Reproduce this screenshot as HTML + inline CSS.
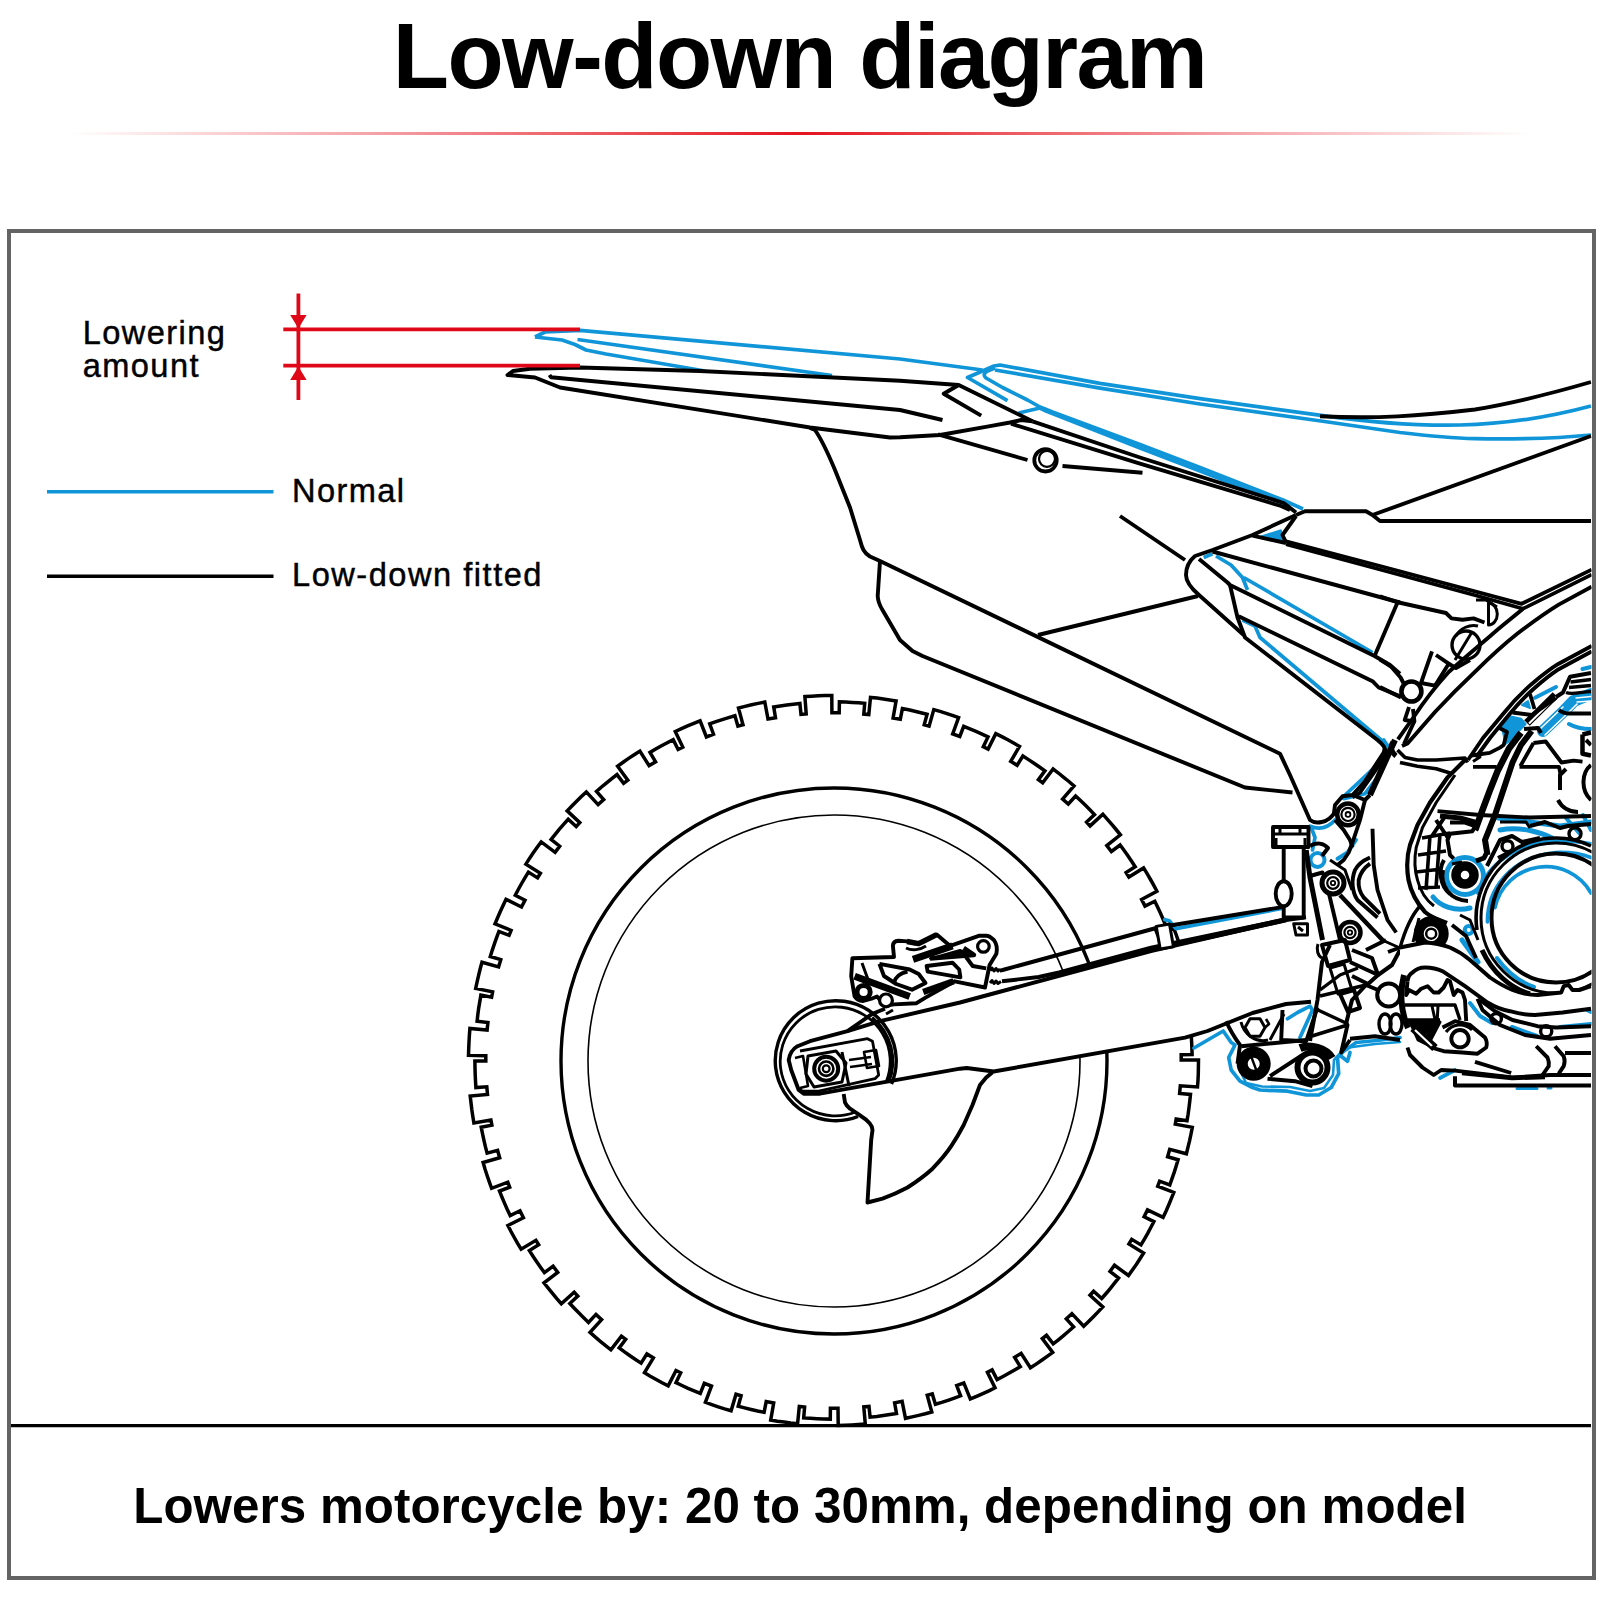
<!DOCTYPE html>
<html lang="en"><head><meta charset="utf-8"><title>Low-down diagram</title>
<style>
html,body{margin:0;padding:0;background:#fff;}
body{width:1600px;height:1600px;position:relative;overflow:hidden;font-family:"Liberation Sans",Arial,Helvetica,sans-serif;color:#000;}
h1{position:absolute;left:392.8px;top:6px;margin:0;white-space:nowrap;font-size:92px;line-height:100px;font-weight:bold;letter-spacing:-1.54px;}
.rule{position:absolute;left:70px;top:132.3px;width:1460px;height:2.4px;background:linear-gradient(90deg,rgba(228,20,32,0) 0%,rgba(228,20,32,.38) 20%,rgba(228,20,32,1) 50%,rgba(228,20,32,.38) 80%,rgba(228,20,32,0) 100%);}
.frame{position:absolute;left:7px;top:229px;width:1580.5px;height:1342.5px;border:4px solid #646464;}
svg{position:absolute;left:0;top:0;}
.t{position:absolute;white-space:nowrap;margin:0;}
.leg{font-size:32.6px;line-height:33.15px;letter-spacing:1.4px;-webkit-text-stroke:0.45px #000;}
.cap{font-size:49.3px;font-weight:bold;left:133.3px;top:1475.6px;line-height:60px;letter-spacing:0.045px;}
</style></head><body>
<h1>Low-down diagram</h1>
<div class="rule"></div>
<div class="frame"></div>
<svg width="1600" height="1600" viewBox="0 0 1600 1600" fill="none" stroke="#000" stroke-width="3.2" stroke-linejoin="miter" stroke-linecap="butt">
<defs><clipPath id="clip"><rect x="11" y="233" width="1580.5" height="1342.5"/></clipPath></defs>
<g clip-path="url(#clip)">
<path d="M804.9 696.6 L811.6 696.2 L818.3 695.8 L825.1 695.6 L831.8 695.5 L831.9 712.8 L839.2 712.8 L839.4 701.9 L845.7 702.1 L852.1 702.4 L858.4 702.8 L864.7 703.3 L863.8 714.1 L868.8 714.6 L870.5 697.4 L877.0 698.1 L883.4 698.9 L889.7 699.9 L896.1 700.9 L893.1 718.0 L900.3 719.3 L902.4 708.6 L908.6 709.8 L914.8 711.2 L920.9 712.7 L927.1 714.3 L924.2 724.8 L929.1 726.2 L933.8 709.6 L940.0 711.4 L946.2 713.3 L952.3 715.4 L958.6 717.6 L952.7 733.9 L959.8 736.5 L963.7 726.4 L969.9 728.9 L976.0 731.4 L982.0 734.1 L988.0 736.9 L983.3 746.7 L988.1 749.1 L995.8 733.6 L1001.8 736.6 L1007.8 739.8 L1013.6 743.1 L1019.5 746.4 L1010.7 761.3 L1017.1 765.3 L1022.9 756.0 L1028.5 759.6 L1034.0 763.2 L1039.5 767.0 L1044.9 770.8 L1038.4 779.6 L1042.7 782.8 L1053.1 768.9 L1058.4 773.0 L1063.7 777.3 L1068.9 781.5 L1074.0 785.9 L1062.6 799.0 L1068.3 804.0 L1075.6 796.0 L1080.5 800.5 L1085.2 805.1 L1089.9 809.8 L1094.5 814.6 L1086.6 822.0 L1090.1 825.9 L1102.9 814.2 L1107.4 819.3 L1111.8 824.4 L1116.1 829.5 L1120.4 834.8 L1106.8 845.5 L1111.4 851.5 L1120.1 845.0 L1124.0 850.3 L1127.9 855.7 L1131.6 861.2 L1135.2 866.7 L1126.1 872.6 L1128.9 877.1 L1143.6 867.9 L1147.1 873.7 L1150.5 879.5 L1153.8 885.4 L1156.9 891.3 L1141.6 899.4 L1145.0 906.1 L1154.8 901.3 L1157.7 907.2 L1160.5 913.3 L1163.1 919.3 L1165.7 925.4 L1155.6 929.5 L1157.5 934.4 L1173.7 928.2 L1176.1 934.5 L1178.3 940.8 L1180.5 947.2 L1182.5 953.6 L1166.0 958.7 L1168.1 966.0 L1178.6 963.0 L1180.3 969.4 L1182.0 975.8 L1183.5 982.3 L1184.8 988.8 L1174.2 990.9 L1175.2 996.1 L1192.2 992.9 L1193.4 999.5 L1194.4 1006.2 L1195.4 1012.9 L1196.2 1019.6 L1179.0 1021.5 L1179.8 1029.1 L1190.6 1028.1 L1191.2 1034.7 L1191.6 1041.3 L1191.9 1047.9 L1192.1 1054.5 L1181.2 1054.7 L1181.2 1060.0 L1198.5 1060.0 L1198.4 1066.8 L1198.3 1073.5 L1198.0 1080.3 L1197.5 1087.0 L1180.3 1085.8 L1179.6 1093.4 L1190.5 1094.4 L1189.8 1101.0 L1189.0 1107.6 L1188.1 1114.2 L1187.0 1120.8 L1176.2 1119.0 L1175.3 1124.2 L1192.3 1127.4 L1191.0 1134.0 L1189.6 1140.6 L1188.0 1147.2 L1186.4 1153.8 L1169.7 1149.4 L1167.6 1156.7 L1178.1 1159.7 L1176.2 1166.1 L1174.2 1172.4 L1172.0 1178.7 L1169.8 1185.0 L1159.6 1181.2 L1157.7 1186.2 L1173.8 1192.4 L1171.3 1198.7 L1168.7 1205.0 L1166.0 1211.2 L1163.1 1217.3 L1147.5 1209.9 L1144.1 1216.7 L1153.9 1221.6 L1150.8 1227.5 L1147.7 1233.4 L1144.4 1239.2 L1141.0 1244.9 L1131.7 1239.3 L1128.9 1243.9 L1143.6 1253.0 L1140.0 1258.7 L1136.3 1264.4 L1132.4 1269.9 L1128.5 1275.5 L1114.5 1265.3 L1110.0 1271.4 L1118.6 1278.0 L1114.5 1283.2 L1110.4 1288.4 L1106.1 1293.5 L1101.7 1298.5 L1093.6 1291.3 L1090.0 1295.2 L1102.8 1306.9 L1098.1 1311.9 L1093.4 1316.7 L1088.6 1321.5 L1083.7 1326.2 L1071.9 1313.6 L1066.3 1318.8 L1073.6 1326.9 L1068.6 1331.3 L1063.5 1335.6 L1058.4 1339.8 L1053.2 1343.9 L1046.5 1335.3 L1042.3 1338.6 L1052.7 1352.4 L1047.2 1356.4 L1041.7 1360.3 L1036.1 1364.1 L1030.4 1367.8 L1021.1 1353.3 L1014.6 1357.3 L1020.3 1366.6 L1014.6 1370.0 L1008.8 1373.3 L1003.0 1376.5 L997.1 1379.6 L992.1 1369.9 L987.4 1372.3 L995.0 1387.8 L988.9 1390.8 L982.8 1393.6 L976.6 1396.3 L970.3 1398.9 L963.8 1382.9 L956.7 1385.6 L960.6 1395.8 L954.3 1398.1 L948.0 1400.3 L941.7 1402.4 L935.4 1404.3 L932.3 1393.9 L927.2 1395.3 L931.8 1412.0 L925.3 1413.8 L918.7 1415.4 L912.1 1416.9 L905.5 1418.3 L902.1 1401.4 L894.6 1402.8 L896.5 1413.5 L889.9 1414.6 L883.4 1415.6 L876.8 1416.5 L870.1 1417.2 L869.0 1406.4 L863.8 1406.9 L865.3 1424.1 L858.5 1424.6 L851.7 1425.0 L845.0 1425.3 L838.2 1425.5 L838.0 1408.2 L830.4 1408.2 L830.3 1419.1 L823.6 1419.0 L816.9 1418.7 L810.3 1418.3 L803.7 1417.9 L804.6 1407.0 L799.3 1406.5 L797.6 1423.7 L790.8 1423.0 L784.1 1422.1 L777.4 1421.2 L770.7 1420.1 L773.7 1403.0 L766.2 1401.6 L764.1 1412.3 L757.6 1411.0 L751.1 1409.5 L744.6 1407.9 L738.2 1406.2 L741.1 1395.7 L736.0 1394.2 L731.1 1410.8 L724.6 1408.9 L718.2 1406.8 L711.8 1404.6 L705.4 1402.3 L711.5 1386.1 L704.3 1383.3 L700.3 1393.4 L694.1 1390.9 L688.0 1388.3 L682.0 1385.5 L676.0 1382.6 L680.7 1372.8 L676.0 1370.5 L668.2 1385.9 L662.1 1382.8 L656.2 1379.5 L650.3 1376.2 L644.5 1372.7 L653.4 1357.9 L646.9 1353.9 L641.1 1363.1 L635.5 1359.5 L630.0 1355.8 L624.5 1351.9 L619.2 1348.0 L625.7 1339.3 L621.4 1336.1 L610.9 1349.8 L605.6 1345.6 L600.3 1341.3 L595.1 1336.9 L590.0 1332.4 L601.6 1319.6 L596.0 1314.4 L588.5 1322.4 L583.7 1317.8 L579.0 1313.1 L574.3 1308.3 L569.8 1303.5 L577.8 1296.1 L574.2 1292.1 L561.3 1303.7 L556.8 1298.6 L552.5 1293.4 L548.2 1288.1 L544.0 1282.8 L557.7 1272.3 L553.1 1266.2 L544.4 1272.6 L540.5 1267.2 L536.7 1261.7 L533.0 1256.2 L529.4 1250.6 L538.7 1244.8 L535.9 1240.3 L521.1 1249.2 L517.6 1243.4 L514.3 1237.5 L511.0 1231.5 L507.9 1225.5 L523.4 1217.7 L520.0 1210.8 L510.2 1215.6 L507.3 1209.5 L504.6 1203.4 L502.0 1197.3 L499.5 1191.1 L509.7 1187.2 L507.8 1182.2 L491.6 1188.3 L489.3 1181.9 L487.1 1175.5 L485.0 1169.0 L483.1 1162.5 L499.7 1157.7 L497.6 1150.4 L487.1 1153.2 L485.4 1146.7 L483.9 1140.2 L482.5 1133.7 L481.2 1127.2 L491.9 1125.2 L490.9 1120.0 L473.9 1122.9 L472.8 1116.2 L471.8 1109.5 L471.0 1102.8 L470.2 1096.1 L487.5 1094.4 L486.8 1086.8 L475.9 1087.6 L475.5 1080.9 L475.2 1074.3 L475.0 1067.6 L474.9 1061.0 L485.8 1061.0 L485.8 1055.7 L468.5 1055.4 L468.7 1048.7 L469.0 1042.0 L469.4 1035.2 L469.9 1028.5 L487.1 1030.0 L487.9 1022.5 L477.1 1021.3 L477.8 1014.7 L478.7 1008.1 L479.8 1001.6 L480.9 995.1 L491.6 997.1 L492.6 991.9 L475.7 988.5 L477.1 981.9 L478.6 975.3 L480.2 968.8 L482.0 962.2 L498.6 966.9 L500.8 959.6 L490.3 956.5 L492.3 950.1 L494.4 943.9 L496.6 937.6 L498.9 931.4 L509.1 935.3 L511.1 930.4 L495.0 923.9 L497.6 917.7 L500.3 911.5 L503.1 905.4 L506.0 899.3 L521.5 907.0 L525.0 900.2 L515.3 895.2 L518.4 889.3 L521.6 883.5 L524.9 877.8 L528.4 872.1 L537.6 877.9 L540.4 873.4 L525.9 864.1 L529.5 858.4 L533.3 852.8 L537.2 847.3 L541.2 841.9 L555.1 852.3 L559.7 846.2 L551.1 839.5 L555.2 834.3 L559.4 829.2 L563.8 824.2 L568.2 819.3 L576.2 826.6 L579.8 822.7 L567.2 810.9 L571.9 806.0 L576.6 801.2 L581.4 796.5 L586.3 791.9 L598.1 804.6 L603.7 799.6 L596.5 791.4 L601.5 787.0 L606.6 782.8 L611.8 778.7 L617.0 774.6 L623.6 783.3 L627.8 780.2 L617.6 766.2 L623.1 762.3 L628.6 758.4 L634.2 754.7 L639.9 751.1 L649.1 765.7 L655.6 761.8 L650.0 752.4 L655.7 749.1 L661.5 745.8 L667.3 742.7 L673.2 739.7 L678.1 749.5 L682.8 747.1 L675.3 731.5 L681.5 728.7 L687.6 725.9 L693.8 723.3 L700.1 720.8 L706.4 736.9 L713.5 734.2 L709.7 723.9 L716.0 721.7 L722.2 719.6 L728.6 717.6 L734.9 715.7 L737.9 726.2 L743.0 724.8 L738.5 708.1 L745.0 706.4 L751.6 704.8 L758.2 703.4 L764.8 702.0 L768.0 719.0 L775.5 717.7 L773.7 706.9 L780.2 705.9 L786.8 705.0 L793.3 704.2 L799.9 703.5 L801.0 714.3 L806.2 713.9Z" stroke-width="3.5"/>
<circle cx="834" cy="1061" r="273" stroke-width="3.4"/>
<circle cx="834" cy="1061" r="246" stroke-width="1.6"/>
<!-- 10_blue.svg -->
<g stroke="#1096d8" stroke-width="3.7" fill="none" stroke-linejoin="round">
<!-- blue fender -->
<path d="M535 337 L545 332 L580 330.3 L900 359 L982.5 370"/>
<path d="M535 337 L562 340 L575 344.5 L586 350 L606 354 L705 371"/>
<path d="M577.5 339.5 L832 375.5"/>
<!-- blue seat -->
<path d="M1007.5 400.6 L967.5 377.5 L994 366 L1000 365 L1100 383.4 L1200 398.7 L1321 415.3 C1375 423 1420 425.8 1460 425 C1510 424 1550 417 1591 406"/>
<path d="M995 370 L1100 388.1 L1200 404 L1321 421 L1400 432.5 C1430 436 1450 438 1475 438.7 C1520 439.5 1560 438 1591 435"/>
<path d="M995 368 L987.5 371 C984 373 983 375.5 986 378 L1002.5 387.5 L1027.5 400 L1040 407 L1052.5 412 L1140 444.5 L1200 467.5 L1283 500 L1303 509"/>
<path d="M1018.7 413 L1040 408 L1046 411 L1140 448 L1200 471 L1290 506"/>
<path d="M1258.7 537 L1281 530 L1283.7 541 Z" fill="#1096d8" stroke-width="1.5"/>
<!-- blue subframe -->
<path d="M1203.7 557.5 L1212.5 553.7"/>
<path d="M1216 556 L1231 565 L1242.5 577.5 L1247.5 590"/>
<path d="M1243.7 577.5 L1372.5 652.5"/>
<path d="M1242.5 620 L1255 626 L1260 637.5 L1390 747.5 L1382.5 760 L1342.5 797.5"/>
</g>
<!-- 12_blue_engine.svg -->
<g stroke="#1096d8" stroke-width="3.7" fill="none" stroke-linejoin="round" stroke-linecap="round">
<!-- blue around lower subframe / lug -->
<path d="M1383.7 740 L1390 750 L1377.5 777.5 L1365 793.7 L1343.7 798.7"/>
<path d="M1310 826.2 C1318 829.5 1327 829 1335 820"/>
<path d="M1311.2 827.5 L1315 837.5 L1312.5 850"/>
<circle cx="1317.5" cy="860" r="7" stroke-width="4"/>
<path d="M1337.5 858.7 L1347.5 852.5 L1356 840" stroke-width="4"/>
<!-- blue swingarm top -->
<path d="M1164.7 919.6 L1169.2 920.7 L1176 928.6 L1281.7 908.4"/>
<!-- blue linkage outline -->
<path d="M1194 1048 L1223.2 1031 L1231.2 1042.5 L1235 1045 L1228.7 1057.5 L1231.2 1070 L1240 1081.2 L1252.5 1087.5 L1260 1090 L1287.5 1091.2 L1306.2 1095 L1318.7 1095 L1331.2 1087.5 L1338.7 1073.7 L1337.5 1057.5 L1343.7 1051.2 L1356.2 1042.5 L1381.2 1040 L1400 1037.5"/>
<path d="M1238 1066 L1246 1083 L1262 1086.5 L1290 1087 L1310 1091 L1324 1088 L1333 1075 L1334 1060 L1345 1048 L1375 1044 L1400 1042" stroke-width="2.6"/>
<path d="M1287.5 1018.7 L1297.5 1012.5 L1310 1006.2 L1312.5 1010 L1300 1037.5"/>
<path d="M1341.2 1056.2 L1347.5 1061.2 L1350 1052.5"/>
<!-- blue clutch arcs -->
<path d="M1495 907.5 A52 52 0 0 1 1591 893" />
<path d="M1487.5 922 C1487 890 1510 857 1556 852.5 C1570 852 1582 854 1591 857.5"/>
<path d="M1478 893 C1487 866 1515 842 1556 841 C1570 841 1582 842 1591 843.7"/>
<path d="M1497 958 C1507 972 1520 982 1534 987" stroke-width="4"/>
<!-- blue around bolt -->
<circle cx="1465" cy="876" r="18.5" stroke-width="5"/>
<path d="M1433 897 C1440 906 1455 912 1470 908" stroke-width="5"/>
<circle cx="1468.7" cy="930" r="4" stroke-width="4"/>
<path d="M1462 940 L1478 962" stroke-width="5"/>
<!-- blue top right engine blobs -->
<path d="M1498 818 L1530 822 L1560 826 L1591 822" stroke-width="5"/>
<path d="M1500 830 C1520 826 1540 832 1552 838" stroke-width="5"/>
<path d="M1566 818 L1580 834 M1583 815 L1591 830" stroke-width="4"/>
<path d="M1502 727.5 L1509 716 L1521 718.7 L1525.6 724 L1509 741.5 L1505.5 744 Z" fill="#1096d8" stroke-width="2"/>
<path d="M1522 705 L1528 701 L1530 708 Z" fill="#1096d8" stroke-width="2"/>
<path d="M1535 697.7 L1556 687" stroke-width="4"/>
<path d="M1543 731 L1565 710 L1573.7 701 L1591 694" stroke-width="12"/>
<path d="M1545 735 L1568 713 L1577 704 M1541 728 L1563 707" stroke="#fff" stroke-width="1.6"/>
<path d="M1576 698 L1591 696.5 M1577 702 L1591 701" stroke="#fff" stroke-width="1.4"/>
<path d="M1569 724 C1576 728 1584 729 1591 729" stroke-width="4"/>
<path d="M1582.5 669 L1591 667" stroke-width="4"/>
<path d="M1440 1078 L1455 1070" />
<path d="M1470 1003 L1480 1016 L1492 1023 M1512 1027 L1537 1036 M1560 1027 L1591 1024" stroke-width="4"/>
<path d="M1517 1088.5 L1537 1088.5 M1548 1088 L1551 1088" stroke-width="3"/>
<path d="M1568 1000 L1591 1012" stroke-width="4"/>
</g>
<!-- 20_body.svg -->
<g stroke="#000" stroke-width="3.9" fill="none" stroke-linejoin="round">
<!-- fender -->
<path d="M958.7 385 L900 380.8 L700 371 L580 367.5 L530 368.7 L513 371 L507.5 375 L535 377.5 L547.5 382.5 L560 387.5 L810 427.5 L890 437.5 L900 437.3 L940 435 L990 426.2 L1010 422.5 L1021 420 L1032.5 421.3"/>
<path d="M549.5 375 L551 377.3 L900 410 L942.5 420"/>
<path d="M981.2 415.6 L943.7 393.7 L958.7 385 L1032.5 421.3"/>
<!-- side panel -->
<path d="M810 428 L815 430 C822 440 830 458 835 470 L850 507.5 L860 540 C862 548 864 553 870 556.5 L880 561 L1280 753.7 L1290 775 L1310 820 C1315 824 1328 824 1335 812"/>
<!-- muffler -->
<path d="M880 561 L877.7 596 C878 602 880 606 882.5 610 L900 640 L912.5 651 L922.5 656 L1245 787.5 L1292.5 792.5"/>
<path d="M1038 635 L1198 596"/>
<path d="M938 434.4 L1027.5 460"/>
<path d="M1062.5 466 L1142.5 472.7"/>
<circle cx="1045.5" cy="460.3" r="11.2" stroke-width="3.8"/>
<circle cx="1047" cy="458.8" r="8" stroke-width="2.2"/>
<path d="M1120 516 L1185 560"/>
<!-- seat base double -->
<path d="M1032.5 421.3 L1140 457.5 L1283.7 503 L1296 512.5"/>
<path d="M1011 423.7 L1140 463.7 L1281 506 L1290 510"/>
<!-- seat top black -->
<path d="M1320 416.2 C1375 419 1420 416 1475 409.5 C1520 402 1560 391 1591 382"/>
<!-- tank -->
<path d="M1296 515 L1305 511.3 L1366 511.3 L1372.5 515 L1380 521 L1591 521"/>
<path d="M1372.5 515 L1591 436"/>
<path d="M1296 516 L1282.5 535 L1286 542.5"/>
<path d="M1252.5 535.6 L1286 543"/>
<path d="M1285 541 L1380 566 L1521.6 603.8 L1591.7 569.6" stroke-width="3.8"/>
<path d="M1286 544.3 L1380 569.4 L1476 595.6 L1523 608.7 L1591.7 574.6" stroke-width="3.6"/>
<!-- nose -->
<path d="M1296 515 L1252.5 535 L1212.5 550 L1195 556 C1189 561 1186 568 1186 575 C1186 582 1192 589 1199 595 L1243.7 635 "/>
<path d="M1212.5 551.5 L1400 602.5"/>
<path d="M1199 559 L1227.5 582.5 L1230 585 L1375 656.2 L1390 665 L1400 673.7"/>
<path d="M1230 585 L1237.5 617.5 L1245 637.5 L1377.5 740 C1383 744.5 1386 748 1386.2 755 L1360 792.5 L1352.5 797.5"/>
<path d="M1238.7 616.2 L1372.5 681.2 L1378.7 687.5 L1400 696.2"/>
<path d="M1397.5 602.5 L1375 655"/>
<!-- frame spar curves -->
<path d="M1591.7 586.7 L1558.7 604.6 C1545 613 1530 624 1517.5 633.5 C1503 645 1490 657 1476.2 670.6 C1462 684 1448 698 1435 712 L1407.5 743.5 L1402 746"/>
<path d="M1523 608.7 C1512 618 1500 627 1490 636.2 C1476 648 1462 660 1448.7 672 C1436 686 1425 700 1414.4 716 L1397.9 739.4"/>
<path d="M1591.7 645.9 L1558.7 663.7 C1549 669.5 1540 677 1531.2 684.4 C1521 693.5 1512 703 1503.7 713.2 L1483 738 L1468 760"/>
<path d="M1591.7 651.4 L1558.7 669.2 C1550 675 1542 681.5 1534 688.5 C1525 696.5 1517 705 1509.2 714.6 L1490 738 L1476.2 757.2"/>
</g>
<!-- 30_swingarm.svg -->
<g stroke="#000" stroke-width="3.9" fill="none" stroke-linejoin="round">
<!-- swingarm body white fill hides tire/rim -->
<path d="M1306 917.4 L1286 920 L1151 951 L1088 968 L960 1002.5 L880 1021.2 L847.5 1031.2 L810 1041.2 L797.5 1046.2 L790 1053.7 L788.7 1060 L791.2 1070 L798.7 1090 L803.7 1093.7 L820 1093.7 L960 1068.7 L966.7 1068 L993.7 1071.5 L1185 1037.7 L1207.5 1031 L1230 1022 L1252.5 1013 L1286 1004 L1311 1001.7 Z" fill="#fff" stroke="none"/>
<!-- fin white fill + outline -->
<path d="M843.7 1092 L845 1102.5 L850 1108.7 L861.2 1116.2 L870 1123.7 L872.5 1130 L871.2 1140 L867.5 1202.5 L882.5 1198.7 L907.5 1187.5 L932.5 1168.7 L951.2 1146.2 L963.7 1125 L972.5 1105 L980 1085 L986.2 1077.5 L992.5 1072.2 L966.7 1067 L960 1067.7 Z" fill="#fff" stroke="none"/>
<path d="M843.7 1094 L845 1102.5 C846 1105 848 1107 850 1108.7 L861.2 1116.2 C866 1119 868 1121 870 1123.7 C872 1126 872.5 1128 872.5 1130 L871.2 1140 L867.5 1202.5 L882.5 1198.7 C890 1196 900 1191.5 907.5 1187.5 C916 1182 925 1175.5 932.5 1168.7 C939 1162 946 1154 951.2 1146.2 C956 1139 960 1132 963.7 1125 L972.5 1105 L980 1085 L986.2 1077.5 L992.5 1072.2"/>
<!-- hub double circle (hidden behind fin) -->
<path d="M891.5 1084 A60.5 60 0 1 0 858 1116.5" stroke-width="3.4"/>
<path d="M886.5 1081 A55 54.5 0 1 0 855.5 1112" stroke-width="2.8"/>
<path d="M872.1 1017.4 A57.7 57.2 0 0 1 888.5 1082.6" stroke-width="3.2"/>
<!-- swingarm outline -->
<path d="M1306 917.4 L1286 920 L1151 951 L1088 968 L960 1002.5 L880 1021.2 L847.5 1031.2 L810 1041.2 L797.5 1046.2 C793 1049 790 1052 788.7 1060 L791.2 1070 L798.7 1090 L803.7 1093.7 L820 1093.7 L960 1068.7 L966.7 1068 L993.7 1071.5 L1185 1037.7 L1207.5 1031 L1230 1022 L1252.5 1013 L1286 1004 L1311 1001.7"/>
<!-- slot -->
<path d="M800 1051 L867.5 1038.7 L872.5 1041.2 L878.7 1075 L875 1078.7 L818.7 1091.2 L802.5 1091.2 L798.7 1088.7" stroke-width="2.8"/>
<path d="M795 1058 L803 1056 L808 1086 L800 1088" stroke-width="2.6"/>
<!-- axle nut -->
<circle cx="826.2" cy="1068.7" r="12" stroke-width="4"/>
<circle cx="826.2" cy="1068.7" r="7.2" stroke-width="2.6"/>
<circle cx="826.2" cy="1068.7" r="3.4" stroke-width="2.2"/>
<path d="M808 1056 L836 1051 L846 1063 L842 1082 L814 1087 L806 1074 Z" stroke-width="3"/>
<path d="M842 1052 L849 1086" stroke-width="3"/>
<path d="M849 1060 L871 1057 M850 1067 L872 1064 M864 1052 L876 1050 L879 1066 L867 1068 Z" stroke-width="2.6"/>
<!-- caliper bracket link -->
<path d="M847.5 1031.2 L872.5 1013.7 L885 1008.7"/>
<!-- caliper -->
<path d="M852.4 958.2 L851.2 976.2 L854.6 996.5 C857 1000 860 1001 862.5 1001 L871.5 998.7 L877 996.5 L885 1005.5 L894 1004.4 L916.5 1003.2 L925.5 997.6 L954.7 981.3 L985 987.5 L989.6 965 L996.4 953.7 C997.5 948 996 943 994 940.2 C991 937 988 935.7 986.2 935.7 L979.5 935.7 L950.2 945.9 L936.7 934.6 L918.7 943.6 C914 944 910 942 907.5 941.4 L898.5 940.8 C895 941 893 943 892.9 945.9 L894 957 Z" fill="#fff"/>
<circle cx="983.4" cy="946.4" r="5.8" stroke-width="3.2"/>
<circle cx="863.6" cy="992" r="6.6" stroke-width="5"/>
<circle cx="886" cy="1000.4" r="6.4" stroke-width="3.2" fill="#fff"/>
<path d="M879.4 963.9 L909.7 969.5 L918.7 974 L925.5 983 L912 989.7 L896.2 984 L884 976 L879.4 963.9"/>
<path d="M894 983 C895 978 899 973.5 907.5 971.7"/>
<path d="M926.6 966 L952.5 962.7 L959.2 969.5 L960.4 977.4 L927.7 971.7 Z"/>
<path d="M913 959.4 L952.5 945.9" stroke-width="7"/>
<path d="M907 941.5 L918.7 943.6 L936.7 934.6" stroke-width="5.5"/>
<path d="M930 958.5 L973.9 954.9 L963.7 948" stroke-width="4.6"/>
<path d="M930 958.5 L960 950 L972 954.9 Z" fill="#000" stroke-width="2"/>
<path d="M966 957 L972.7 966 L986.2 968.4"/>
<path d="M854.6 976.2 L909.7 996.5" stroke-width="7"/>
<path d="M923.2 992 L953.6 981.3" stroke-width="6.5"/>
<path d="M862 963 L870 985 M906 948 C912 951 920 950 926 946" stroke-width="3"/>
<path d="M893 1010 L886 1014" stroke-width="3"/>
<!-- brake hose fitting -->
<path d="M990 970.5 L992 968 L994 971 L996 968.5 L998 971 L1000 969" stroke-width="3"/>
<path d="M990 983 L992 980.5 L994 983.5 L996 981 L998 983.5 L1001 981.5" stroke-width="3"/>
<!-- brake rod -->
<path d="M999.7 970.6 L1002.7 970 L1158 927.5 L1281.7 907.2"/>
<path d="M1002 981.3 L1038.7 977 L1059 972.5 L1151 947.7 L1284 919.6"/>
<path d="M1151 949.5 L1286 919.8" stroke-width="5"/>
<rect x="1158" y="925" width="13.5" height="23" transform="rotate(-10 1165 936)" stroke-width="3" fill="#fff"/>
</g>
<!-- 40_frame.svg -->
<g stroke="#000" stroke-width="3.9" fill="none" stroke-linejoin="round">
<!-- shock top / reservoir -->
<path d="M1380 596.4 L1396.5 602 L1446 613 L1451.5 618.4 L1462.5 619.7 L1473.5 618.4 L1484.5 622.5"/>
<path d="M1488.5 603 L1488.5 625 A8 10 0 0 0 1488.5 603 Z" stroke-width="3"/>
<path d="M1476 600 L1486 600 L1497 607" stroke-width="3"/>
<circle cx="1466" cy="645" r="14" stroke-width="3.4"/>
<path d="M1478 626 C1470 624 1460 628 1456 636 M1472 632 L1455 660" stroke-width="3"/>
<path d="M1432 651.4 L1421 683 L1435 685.7 L1448.7 663.7 L1436 655"/>
<path d="M1448.7 663.7 L1456 668 L1470 660"/>
<circle cx="1411.4" cy="691.5" r="10" stroke-width="4.6" fill="#fff"/>
<path d="M1380 659.6 L1391 666.5 L1400.6 677.5 L1403.4 683"/>
<path d="M1380 687 L1401 697.5"/>
<path d="M1409 707 L1404.7 720 L1414.4 721.5 L1413 709"/>
<path d="M1414 722 L1404 744"/>
<!-- lower subframe tube end / lug -->
<path d="M1385 747.5 L1383.7 752.5 L1365 781.2 L1352.5 795 L1342.5 796.2 L1335 805 L1333.7 815"/>
<path d="M1395 740 L1370 795" stroke-width="6"/>
<path d="M1352.5 795 L1365 800 L1370 795"/>
<path d="M1365 800 L1360 820 L1352.5 842.5 L1348.7 852.5 L1343.7 860 L1337.5 865"/>
<path d="M1335 820 L1343.7 830 L1350 840 L1352.5 847.5"/>
<circle cx="1348" cy="814.4" r="10.8" stroke-width="4.5" fill="#fff"/>
<circle cx="1348" cy="814.4" r="6.6" stroke-width="2.2"/>
<circle cx="1348" cy="814.4" r="2.4" stroke-width="1.8"/>
<path d="M1372.5 828.7 L1373.7 865 L1377.5 890 L1387.5 920 L1396.2 932.5"/>
<path d="M1370 857.5 C1362 861 1357 866 1355 870 C1351 880 1352 892 1357.5 900 L1377.5 917.5"/>
<path d="M1370 863.7 C1364 868 1360 874 1358.7 880 C1358 888 1361 894 1363.7 897.5 L1380 913.7"/>
<!-- master cylinder -->
<path d="M1283.7 847 L1283.7 917.5 L1303.7 917.5 L1303.7 847" fill="#fff"/>
<rect x="1273" y="827" width="35.5" height="20" fill="#fff"/>
<path d="M1273 834 L1308.5 834 M1280 827 L1280 834 M1300 827 L1300 834 M1276 838 L1276 845 M1305 838 L1305 845" stroke-width="3"/>
<ellipse cx="1283.7" cy="893.7" rx="8" ry="12.5" fill="#fff"/>
<path d="M1293.7 923.7 L1307.5 923.7 L1307.5 935 L1296 935 Z M1298 927 L1303 931" stroke-width="3"/>
<!-- linkage arms -->
<path d="M1306.2 850 L1310 877.5 L1322.5 940" stroke-width="5"/>
<path d="M1310 876 L1322.5 872.5 L1325 877.5"/>
<path d="M1327.5 887.5 L1340 940"/>
<path d="M1340 895 L1382.5 940" stroke-width="4.5"/>
<circle cx="1333" cy="883" r="11" stroke-width="5" fill="#fff"/>
<circle cx="1333" cy="883" r="5.8" stroke-width="2.2"/>
<circle cx="1333" cy="883" r="2.2" stroke-width="1.8"/>
<circle cx="1350" cy="932.5" r="10.5" stroke-width="4.5" fill="#fff"/>
<circle cx="1350" cy="932.5" r="5.6" stroke-width="2.2"/>
<circle cx="1350" cy="932.5" r="2.2" stroke-width="1.8"/>
<path d="M1310 846 C1316 842 1324 843 1328 848 L1322 856" stroke-width="4"/>
<path d="M1330 860 L1345 870 L1352 890" stroke-width="3"/>
<!-- cross-piece at spar bottom -->
<path d="M1397.5 750 L1405 757.5 L1417.5 760 L1436.2 760 L1465 758 L1467.5 762.5" stroke-width="3.6"/>
<path d="M1400 762.5 L1417.5 766.2 L1436.2 768.7 L1452.5 773.7" stroke-width="3.6"/>
<path d="M1393 742 C1390 746 1391 752 1396 756" stroke-width="5"/>
<!-- engine cradle arc -->
<path d="M1465 760 L1447.5 777.5 L1430 802.5 L1417.5 825 L1410 845 C1407 855 1406.5 868 1408.5 880 C1411 892 1416 902 1425 912 C1432 918 1440 920 1447 923" stroke-width="4.2"/>
<path d="M1455 775 L1436.2 802.5 L1422.5 827.5 L1416.2 847.5 C1414.5 857 1414.5 870 1417.5 880 C1420 890 1426 900 1434 906" stroke-width="3"/>
<!-- engine grid -->
<path d="M1422 838 L1450 833 M1418 855 L1446 851 M1416 872 L1442 869 M1418 888 L1440 887 M1430 836 L1426 890 M1440 834 L1436 888" stroke-width="3.6"/>
<path d="M1437.5 811.2 L1480 815 L1530 817.5 L1591 816" stroke-width="3.8"/>
<path d="M1440 816 L1460 818 L1478 823" stroke-width="5"/>
<path d="M1450 822.5 L1465 822.5 L1475 826.2 L1472.5 831.2 L1450 833.7 L1447.5 840 L1450 855 L1453.7 858.7" stroke-width="4"/>
<path d="M1436 820 L1448 838 M1444 818 L1432 836" stroke-width="4"/>
<path d="M1444 860 C1438 870 1440 886 1450 894" stroke-width="4"/>
<path d="M1452 864 L1462 862" stroke-width="3"/>
<!-- front frame downtube (the diagonal band) -->
<path d="M1521 732.7 L1509 748.5 L1497.6 771 L1490 790 L1482.5 810 L1476.2 827.5 L1475 830" stroke-width="6.5"/>
<path d="M1531.7 731 L1521 745 L1512.5 762.5 L1505 785 L1495 815 L1485 840 L1487.5 855" stroke-width="6"/>
<path d="M1473 766.9 L1496.7 766.9 M1519.5 766.9 L1559 766.9 L1560.6 774.7" stroke-width="3.8"/>
<path d="M1498.5 727.5 L1507 732 L1503.7 745 L1500 747.6 L1489.7 752.9 L1471.4 755.5" stroke-width="3.8"/>
<path d="M1472 754.5 L1480 757 L1473 761.5" stroke-width="3"/>
<path d="M1533.5 743 L1545.7 741.5 L1561.5 762.5 L1573.7 760.7 L1582.5 761.6 M1533.5 743 L1520.4 766" stroke-width="3.8"/>
<!-- rod to spark plug cap -->
<path d="M1527 723 L1555.5 695" stroke-width="8"/>
<path d="M1529 723.5 L1556 697" stroke="#fff" stroke-width="2"/>
<path d="M1524 729 L1538 728 L1541 733" stroke-width="4"/>
<path d="M1556 697 L1563 692.5 L1570 676.7 L1591 673" stroke-width="4"/>
<path d="M1570.5 682 L1591 679.5 M1569 687.5 L1591 685.5 M1566 692.5 C1572 695 1580 692 1591 691.5" stroke-width="3.4"/>
<path d="M1530 694 L1534.5 709 M1512.5 712.5 L1532 715 L1556 698" stroke-width="3.8"/>
<path d="M1558.9 710 C1562 712.5 1566 713.5 1569.4 713.5 L1591 713.5" stroke-width="3.8"/>
<path d="M1582.5 734.5 L1591 732.5 M1582.5 734.5 L1582.5 753.7 L1591 755.5" stroke-width="4.5"/>
<path d="M1586 740 L1591 745" stroke-width="4"/>
<path d="M1566 769 L1560 775 L1560 790 M1558 800 C1562 808 1570 812 1578 812" stroke-width="4"/>
<path d="M1591 765 C1582 772 1580 790 1591 800" stroke-width="4"/>
</g>
<!-- 45_linkage.svg -->
<g stroke="#000" stroke-width="3.9" fill="none" stroke-linejoin="round">
<!-- linkage plate -->
<path d="M1226.2 1021.2 C1229 1028 1235 1038 1240 1045 L1237.5 1063.7"/>
<path d="M1241.2 1046.2 L1306.2 1040"/>
<path d="M1267.5 1078.7 L1295 1081.2 L1312.5 1086.2"/>
<path d="M1270 1076.2 L1302.5 1055"/>
<path d="M1282.5 1010 L1281.2 1040 L1306.2 1041.2 L1317.5 1007.5"/>
<path d="M1284 1014 L1270 1040 M1241 1022 C1244 1035 1256 1043 1268 1040" stroke-width="3"/>
<!-- hex nut -->
<path d="M1245 1027.5 L1250 1018.8 L1260 1018.8 L1265 1027.5 L1260 1036.2 L1250 1036.2 Z" stroke-width="3"/>
<path d="M1265 1027.5 L1269 1024 L1266 1019" stroke-width="2.6"/>
<!-- big bolts -->
<circle cx="1253.7" cy="1063.7" r="11.5" stroke-width="11"/>
<path d="M1251 1056 L1257 1072" stroke-width="2.4"/>
<circle cx="1312.5" cy="1067.5" r="15" stroke-width="6"/>
<circle cx="1313.5" cy="1068.5" r="8" stroke-width="4"/>
<path d="M1300 1048 C1310 1044 1326 1048 1332 1058" stroke-width="8"/>
<!-- struts to shock bottom -->
<path d="M1317.5 1000 L1310 1041 M1317.5 1000 L1322 962 L1330 945" stroke-width="4"/>
<path d="M1312 1036 L1347.5 1025 L1341.2 1052.5 L1350 1040"/>
<path d="M1318 1010 L1348 1024 M1320 996 L1366 985 M1320 990 L1340 975 L1358 968" stroke-width="3.4"/>
<path d="M1350 1038.7 L1375 1036.2 L1400 1040"/>
<path d="M1346 1024 L1352 1000 L1366 985" stroke-width="4"/>
<!-- shock lower body boxes -->
<path d="M1322 945 L1345 940 L1350 960 L1328 966 Z" stroke-width="4"/>
<path d="M1330 968 L1344 964 L1352 990 L1338 994 Z" stroke-width="3"/>
<path d="M1340 994 L1354 990 L1360 1008 L1348 1012 Z" stroke-width="4"/>
<path d="M1352 950 L1372 958 L1378 975 L1368 984 L1352 976" stroke-width="4"/>
<path d="M1350 962 L1376 974 M1366 950 L1386 940" stroke-width="4"/>
<path d="M1318 944 C1316 950 1318 956 1322 958" stroke-width="3"/>
<circle cx="1388.7" cy="995" r="11.5" stroke-width="4" fill="#fff"/>
<ellipse cx="1385" cy="1024" rx="6" ry="10" stroke-width="3.4"/>
<ellipse cx="1396" cy="1024" rx="6" ry="10" stroke-width="3.4"/>
<path d="M1366 985 L1378 990 M1378 975 L1392 965 L1400 950" stroke-width="4"/>
<path d="M1382 940 L1400 948" stroke-width="3"/>
</g>
<!-- 50_engine.svg -->
<g stroke="#000" stroke-width="3.9" fill="none" stroke-linejoin="round">
<!-- clutch cover circles -->
<circle cx="1556" cy="918" r="64.5" stroke-width="4"/>
<circle cx="1556" cy="918" r="75" stroke-width="3"/>
<path d="M1477 930 A80 80 0 0 1 1591 846" stroke-width="3.6"/>
<path d="M1482 950 C1492 972 1510 988 1530 994" stroke-width="5"/>
<!-- bolts -->
<circle cx="1465" cy="875" r="9" stroke-width="9.5"/>
<path d="M1443 870 C1440 886 1450 900 1468 901" stroke-width="4"/>
<circle cx="1431.2" cy="933.7" r="12.5" stroke-width="10"/>
<circle cx="1431.2" cy="933.7" r="5" stroke-width="2.5"/>
<circle cx="1507.5" cy="846.2" r="5.5" stroke-width="3.4"/>
<circle cx="1575" cy="833.7" r="6" stroke-width="3.4"/>
<path d="M1487 866 L1500 840 L1512 836 L1522 842 L1540 838" stroke-width="4"/>
<path d="M1498 858 L1508 853 M1530 826 L1545 822 L1560 828 L1568 826 L1591 824" stroke-width="4"/>
<path d="M1500 822 L1526 822 L1530 828" stroke-width="3"/>
<path d="M1476 861 L1484 858 L1487 852" stroke-width="5"/>
<!-- link from cradle to lower bolt -->
<path d="M1400 948 C1405 930 1412 915 1420 906" stroke-width="3.4"/>
<path d="M1413 942 L1419 918" stroke-width="3"/>
<path d="M1452 925 L1466 936 L1476 958" stroke-width="4"/>
<path d="M1460 915 L1470 920 L1478 940" stroke-width="3"/>
<!-- brake pedal arm S-curve (white band) -->
<path d="M1400 947.5 L1425 942.5 L1450 947.5 L1470 960 L1490 977.5 L1512.5 990 L1537.5 995 L1561.2 992.5 L1563.7 986.2 L1568.7 985 L1572.5 990 L1580 990 L1591 986.2 L1591 1008.7 L1562.5 1012.5 L1535 1015 L1510 1011.2 L1487.5 1002.5 L1465 986.2 L1442.5 971.2 L1425 967.5 L1412.5 972.5 L1407.5 981.2 L1400 981 Z" fill="#fff" stroke="none"/>
<path d="M1388 952 L1400 947.5 L1425 942.5 C1435 943 1443 945 1450 947.5 C1458 951 1464 955 1470 960 L1490 977.5 C1498 983 1505 987 1512.5 990 C1520 993 1530 995 1537.5 995 L1561.2 992.5 L1563.7 986.2 L1568.7 985 L1572.5 990 L1580 990 L1591 986.2"/>
<path d="M1407.5 981.2 C1408 977 1410 974 1412.5 972.5 C1416 969 1420 967.5 1425 967.5 C1432 967.5 1438 969 1442.5 971.2 L1465 986.2 L1487.5 1002.5 C1495 1007 1502 1010 1510 1011.2 C1518 1013.5 1527 1015 1535 1015 L1562.5 1012.5 L1591 1008.7"/>
<!-- footpeg -->
<path d="M1407.5 981.2 L1406.2 995 L1409 990 L1416.2 993.7 L1421.2 988.7 L1427.5 986.2 L1433.7 992.5 L1438.7 992.5 L1443.7 987.5 L1447.5 980 L1450 981.2 L1453.7 995 L1457.5 990 L1462.5 992.5 L1465 1000 L1466.2 1021"/>
<path d="M1405 1005 L1455 1005 L1460 1020 M1405 1020 L1440 1020" stroke-width="3.4"/>
<path d="M1432 1006 L1436 1024 M1438 1006 L1437 1024" stroke-width="3"/>
<path d="M1404 975 C1400 990 1400 1010 1408 1028" stroke-width="6"/>
<path d="M1410 1022 L1440 1022 L1428 1045 L1418 1040 Z" fill="#000" stroke-width="3"/>
<path d="M1413 1028 L1435 1048" stroke-width="8"/>
<path d="M1415 1030 L1432 1046" stroke="#fff" stroke-width="2.2"/>
<!-- shift lever tip -->
<path d="M1442.5 1027.5 L1455 1021.2 L1470 1025 L1485 1037.5 C1487 1041 1487 1045 1486.2 1047.5 L1477.5 1053.7 L1462.5 1052.5 L1443.7 1051.2 L1431.2 1047.5"/>
<circle cx="1460" cy="1038.7" r="8.7" fill="#fff"/>
<path d="M1446 1032 C1452 1024 1464 1022 1472 1030" stroke-width="3"/>
<!-- engine case bottom -->
<path d="M1477.5 998.7 L1482.5 1010 L1500 1025 L1525 1035 L1550 1038.7 L1591 1035"/>
<path d="M1480 1000 L1495 1011.2 L1512.5 1020 L1537.5 1026.2 L1556.2 1027.5 L1591 1026.2"/>
<circle cx="1496.2" cy="1018.7" r="5.2" stroke-width="3.4"/>
<circle cx="1546.2" cy="1031.2" r="5.6" stroke-width="3.4"/>
<path d="M1407.5 1047.5 L1410 1055 L1422.5 1067.5 L1433.7 1075 L1441.2 1070 L1455 1070.6 L1512.5 1077.5 L1550 1075 L1591 1075"/>
<path d="M1455 1076.2 L1455 1085.6 L1591 1085.6" stroke-width="4"/>
<path d="M1462 1073 L1512 1078 L1545 1077" stroke-width="4.5"/>
<path d="M1565 1053 L1591 1053"/>
<path d="M1536.2 1046.2 L1547.5 1057.5 C1549 1061 1549 1064 1548.7 1066.2 L1542.5 1075"/>
<path d="M1555 1046.2 L1563.7 1056.2 C1565 1060 1565 1063 1563.7 1066.2 L1558.7 1073.7"/>
<path d="M1475 1061.9 L1511.2 1073"/>
</g>

</g>
<line x1="11" y1="1425.7" x2="1591" y2="1425.7" stroke-width="3.2"/>
<g stroke="#de0818" stroke-width="3.8">
<line x1="298.4" y1="293.5" x2="298.4" y2="400"/>
<line x1="283.3" y1="329.4" x2="580" y2="329.4"/>
<line x1="283.3" y1="365.6" x2="580" y2="365.6"/>
<path d="M290.2 315 L306.6 315 L298.4 328.5 Z M290.2 380 L306.6 380 L298.4 366.5 Z" fill="#de0818" stroke="none"/>
</g>
<line x1="47" y1="491.8" x2="273.5" y2="491.8" stroke="#1096d8" stroke-width="3.6"/>
<line x1="47" y1="576.2" x2="273.5" y2="576.2" stroke="#000" stroke-width="3.6"/>
</svg>
<p class="t leg" style="left:82.8px;top:316px;letter-spacing:1.4px;">Lowering</p>
<p class="t leg" style="left:82.8px;top:349.15px;letter-spacing:1.4px;">amount</p>
<p class="t leg" style="left:292px;top:473.6px;letter-spacing:1.4px;">Normal</p>
<p class="t leg" style="left:292px;top:558px;letter-spacing:1.52px;">Low-down fitted</p>
<p class="t cap">Lowers motorcycle by: 20 to 30mm, depending on model</p>
</body></html>
